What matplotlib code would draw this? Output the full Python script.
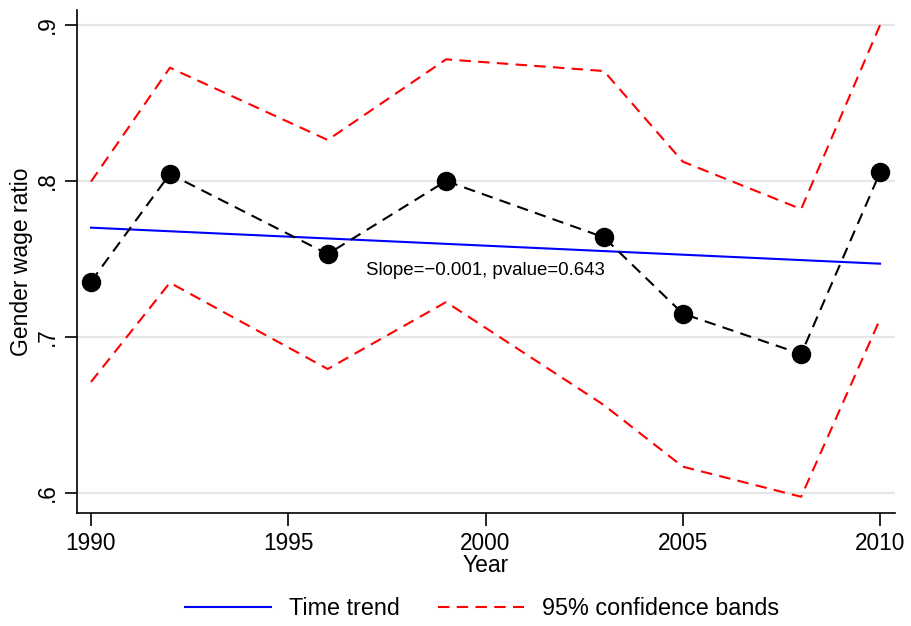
import matplotlib.pyplot as plt
from matplotlib.lines import Line2D

plt.rcParams.update({
    'font.family': ['Liberation Sans', 'DejaVu Sans'],
    'axes.unicode_minus': True,
})

# data
years = [1990, 1992, 1996, 1999, 2003, 2005, 2008, 2010]
ratio = [0.7355, 0.8045, 0.7532, 0.800, 0.7639, 0.7150, 0.6891, 0.8055]
upper = [0.7996, 0.8726, 0.8263, 0.878, 0.8705, 0.8124, 0.782, 0.900]
lower = [0.6712, 0.7348, 0.6795, 0.7224, 0.6564, 0.6169, 0.5976, 0.7115]
trend_years = [1990, 2010]
trend_vals = [0.7701, 0.747]
yticks = [0.6, 0.7, 0.8, 0.9]
ytick_labels = ['.6', '.7', '.8', '.9']
xticks = [1990, 1995, 2000, 2005, 2010]

fig = plt.figure(figsize=(9.11, 6.26), dpi=100)
ax = fig.add_axes([0.0845, 0.1805, 0.898, 0.8035])

for y in yticks:
    ax.axhline(y, color='#e6e6e6', lw=1.6, zorder=0)

ax.plot(years, upper, color='red', lw=1.5, dashes=(5.5, 3.5), zorder=2)
ax.plot(years, lower, color='red', lw=1.5, dashes=(5.5, 3.5), zorder=2)
ax.plot(trend_years, trend_vals, color='blue', lw=1.5, zorder=3)
ax.plot(years, ratio, color='black', lw=1.5, dashes=(5.5, 3.5), marker='o',
        markersize=13, markerfacecolor='black', markeredgecolor='black', zorder=4)

ax.text(2000, 0.7425, 'Slope=\u22120.001, pvalue=0.643', ha='center', va='center', fontsize=13.4)

ax.set_xlim(1989.645, 2010.38)
ax.set_ylim(0.5872, 0.9096)
ax.set_xticks(xticks)
ax.set_xticklabels([str(x) for x in xticks], fontsize=16.3)
ax.set_yticks(yticks)
ax.set_yticklabels(ytick_labels, fontsize=16.3, rotation=90, va='center')
ax.tick_params(axis='both', length=9, width=1.2, color='black')
ax.tick_params(axis='y', pad=4)
ax.tick_params(axis='x', pad=5)

ax.spines['top'].set_visible(False)
ax.spines['right'].set_visible(False)
ax.spines['left'].set_linewidth(1.2)
ax.spines['bottom'].set_linewidth(1.2)

ax.set_xlabel('Year', fontsize=16.5, labelpad=-1)
ax.set_ylabel('Gender wage ratio', fontsize=16.5, labelpad=2)

handles = [Line2D([], [], color='blue', lw=1.5),
           Line2D([], [], color='red', lw=1.5, dashes=(5.5, 3.5))]
fig.legend(handles, ['Time trend', '95% confidence bands'], loc='center',
           bbox_to_anchor=(0.529, 0.028), ncol=2, frameon=False, fontsize=16.8,
           handlelength=3.7, columnspacing=1.63, handletextpad=0.75)

fig.savefig('out.png', dpi=100)
